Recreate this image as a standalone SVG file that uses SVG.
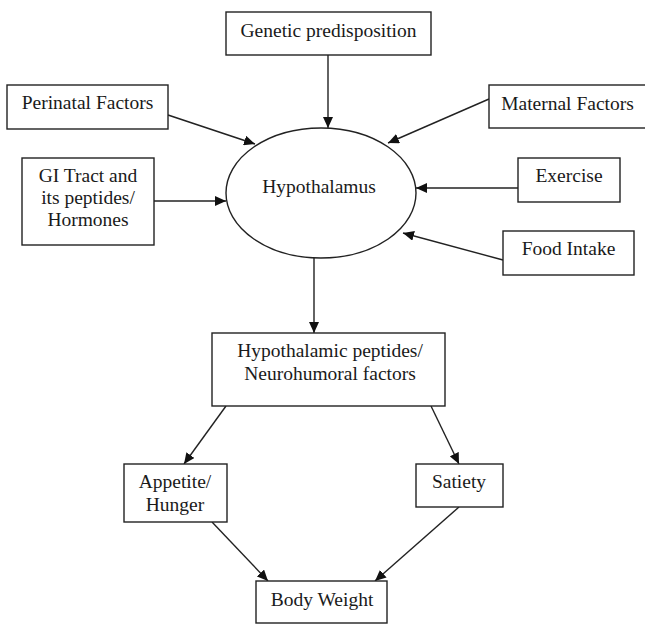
<svg xmlns="http://www.w3.org/2000/svg" width="645" height="625" viewBox="0 0 645 625">
<defs>
<style>
.box{fill:#fff;stroke:#222;stroke-width:1.4}
.lbl{font-family:"Liberation Serif","Times New Roman",serif;font-size:19.5px;fill:#1a1a1a;text-anchor:middle}
.con{stroke:#222;stroke-width:1.4;fill:none;marker-end:url(#ah)}
</style>
<marker id="ah" markerUnits="userSpaceOnUse" markerWidth="12" markerHeight="10" refX="11" refY="5" orient="auto">
<path d="M0,0 L11,5 L0,10 Z" fill="#111"/>
</marker>
</defs>
<rect width="645" height="625" fill="#fff"/>
<g id="connectors">
<line class="con" x1="328" y1="55" x2="328" y2="128"/>
<line class="con" x1="168" y1="115" x2="255" y2="144"/>
<line class="con" x1="489" y1="99" x2="388" y2="143"/>
<line class="con" x1="154" y1="201" x2="226" y2="201"/>
<line class="con" x1="518" y1="188" x2="416" y2="188"/>
<line class="con" x1="503" y1="260" x2="403" y2="233"/>
<line class="con" x1="314" y1="258" x2="314" y2="333"/>
<line class="con" x1="226" y1="406" x2="184" y2="464"/>
<line class="con" x1="431" y1="406" x2="459" y2="464"/>
<line class="con" x1="212" y1="522" x2="268" y2="581"/>
<line class="con" x1="459" y1="507" x2="375" y2="581"/>
</g>
<g id="genetic">
<rect class="box" x="226" y="12" width="205" height="43"/>
<text class="lbl" x="328.5" y="37">Genetic predisposition</text>
</g>
<g id="perinatal">
<rect class="box" x="7" y="85" width="161" height="44"/>
<text class="lbl" x="87.5" y="109">Perinatal Factors</text>
</g>
<g id="maternal">
<rect class="box" x="489" y="85" width="160" height="43"/>
<text class="lbl" x="567.5" y="110">Maternal Factors</text>
</g>
<g id="gi">
<rect class="box" x="22" y="158" width="132" height="87"/>
<text class="lbl" x="88" y="182">GI Tract and</text>
<text class="lbl" x="88" y="204">its peptides/</text>
<text class="lbl" x="88" y="226">Hormones</text>
</g>
<g id="exercise">
<rect class="box" x="518" y="158" width="102" height="44"/>
<text class="lbl" x="569" y="182">Exercise</text>
</g>
<g id="food">
<rect class="box" x="503" y="231" width="131" height="44"/>
<text class="lbl" x="568.5" y="255">Food Intake</text>
</g>
<g id="hypothalamus">
<ellipse class="box" cx="321" cy="193" rx="95" ry="65"/>
<text class="lbl" x="319" y="193">Hypothalamus</text>
</g>
<g id="peptides">
<rect class="box" x="212" y="333" width="233" height="73"/>
<text class="lbl" x="330" y="357">Hypothalamic peptides/</text>
<text class="lbl" x="330" y="380">Neurohumoral factors</text>
</g>
<g id="appetite">
<rect class="box" x="124" y="464" width="103" height="58"/>
<text class="lbl" x="175" y="488">Appetite/</text>
<text class="lbl" x="175" y="511">Hunger</text>
</g>
<g id="satiety">
<rect class="box" x="416" y="464" width="87" height="43"/>
<text class="lbl" x="459" y="488">Satiety</text>
</g>
<g id="bodyweight">
<rect class="box" x="256" y="581" width="131" height="42"/>
<text class="lbl" x="322" y="606">Body Weight</text>
</g>
</svg>
